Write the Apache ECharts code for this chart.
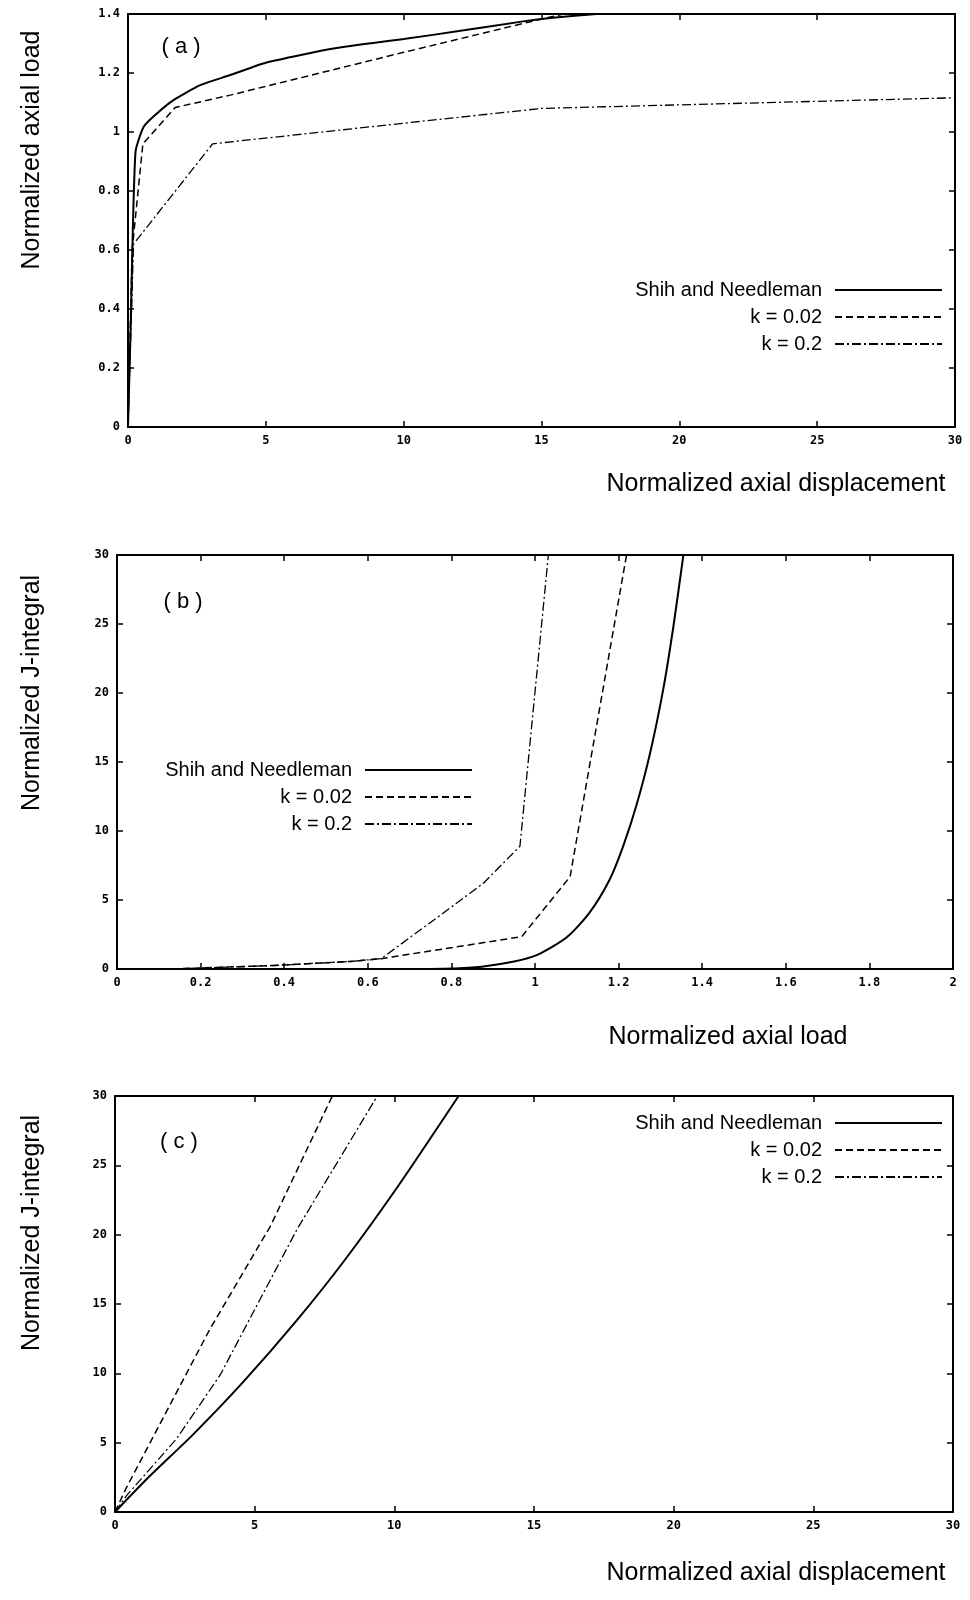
<!DOCTYPE html>
<html lang="en">

<head>
    <meta charset="UTF-8">
    <title>Normalized axial load / J-integral</title>
    <script src="https://cdn.jsdelivr.net/npm/echarts@6/dist/echarts.min.js"></script>
    <style>
        body { margin: 0; background: #fff; }
    </style>
</head>

<body>
    <div id="main" style="width:970px;height:1600px"></div>
    <script>
        // series names
        var names = ['Shih and Needleman', 'k = 0.02', 'k = 0.2'];

        // (a) normalized axial load vs normalized axial displacement
        var aShih = [[0, 0], [0.1, 0.35], [0.27, 0.93], [0.57, 1.018], [1.05, 1.063], [1.65, 1.108], [2.62, 1.159], [3.71, 1.193], [5, 1.235], [7.46, 1.283], [10, 1.315], [12, 1.342], [14.34, 1.375], [15.5, 1.388], [17, 1.4]];
        var aK002 = [[0, 0], [0.15, 0.6], [0.54, 0.96], [1.71, 1.083], [3.71, 1.125], [10, 1.27], [14.34, 1.368], [15.8, 1.4]];
        var aK02 = [[0, 0], [0.2, 0.62], [3.07, 0.96], [15, 1.08], [30, 1.116]];

        // (b) normalized J-integral vs normalized axial load
        var bShih = [[0, 0], [0.75, 0], [0.85, 0.1], [0.95, 0.55], [1.004, 1.0], [1.076, 2.3], [1.131, 4.1], [1.179, 6.5], [1.211, 8.9], [1.243, 11.9], [1.275, 15.6], [1.307, 20.3], [1.331, 24.8], [1.355, 30]];
        var bK002 = [[0, 0], [0.13, 0], [0.373, 0.25], [0.56, 0.55], [0.632, 0.75], [0.968, 2.34], [1.084, 6.69], [1.219, 30]];
        var bK02 = [[0, 0], [0.13, 0], [0.373, 0.25], [0.56, 0.55], [0.632, 0.75], [0.796, 4.4], [0.876, 6.2], [0.964, 8.9], [1.032, 30]];

        // (c) normalized J-integral vs normalized axial displacement
        var cShih = [[0, 0], [1.2, 2.5], [2.8, 5.6], [4.6, 9.4], [6.5, 13.8], [8.2, 18.1], [10.1, 23.4], [12.3, 30]];
        var cK002 = [[0, 0], [0.42, 1.8], [3.4, 13.2], [5.56, 20.6], [7.78, 30]];
        var cK02 = [[0, 0], [0.42, 1.2], [2.21, 5.3], [3.77, 9.9], [6.52, 20.4], [9.39, 30]];

        // axis ranges [min, max, interval]
        var aX = [0, 30, 5], aY = [0, 1.4, 0.2];
        var bX = [0, 2, 0.2], bY = [0, 30, 5];
        var cX = [0, 30, 5], cY = [0, 30, 5];

        var tickFont = { fontFamily: 'DejaVu Sans Mono', fontSize: 12, fontWeight: 'bold', color: '#000' };

        function axis(gi, r, pos, labels) {
            return {
                type: 'value', gridIndex: gi, position: pos,
                min: r[0], max: r[1], interval: r[2],
                splitLine: { show: false },
                axisLine: { show: true, onZero: false, lineStyle: { color: '#000', width: 2 } },
                axisTick: { show: true, inside: true, length: 6, lineStyle: { color: '#000', width: 1.5 } },
                axisLabel: Object.assign({ show: labels, margin: 8 }, tickFont)
            };
        }

        var styles = [
            { color: '#000', width: 2, type: 'solid' },
            { color: '#000', width: 1.5, type: [7, 4] },
            { color: '#000', width: 1.3, type: [9, 3, 2, 3] }
        ];

        function line(name, data, gi, k, smooth) {
            return {
                type: 'line', name: name, data: data,
                xAxisIndex: gi * 2, yAxisIndex: gi * 2,
                symbol: 'none', clip: true, z: 3,
                smooth: smooth || false,
                lineStyle: styles[k], itemStyle: { color: '#000' }
            };
        }

        function legend(right, top) {
            return {
                data: names, orient: 'vertical', align: 'right',
                right: right, top: top, padding: 0,
                itemWidth: 107, itemHeight: 14, itemGap: 7,
                selectedMode: false,
                itemStyle: { opacity: 0 },
                textStyle: { fontFamily: 'Liberation Sans', fontSize: 20, lineHeight: 20, color: '#000', padding: [0, 8, 0, 0] }
            };
        }

        function label(text, x, y, size, rot) {
            return {
                type: 'text', x: x, y: y, rotation: rot || 0,
                style: { text: text, font: size + 'px "Liberation Sans"', fill: '#000', align: 'center', verticalAlign: 'middle' }
            };
        }

        var myChart = echarts.init(document.getElementById('main'), null, { renderer: 'canvas' });
        var option = {
            backgroundColor: '#fff',
            animation: false,
            grid: [
                { left: 128, top: 14, width: 827, height: 413, outerBoundsMode: 'none' },
                { left: 117, top: 555, width: 836, height: 414, outerBoundsMode: 'none' },
                { left: 115, top: 1096, width: 838, height: 416, outerBoundsMode: 'none' }
            ],
            xAxis: [
                axis(0, aX, 'bottom', true), axis(0, aX, 'top', false),
                axis(1, bX, 'bottom', true), axis(1, bX, 'top', false),
                axis(2, cX, 'bottom', true), axis(2, cX, 'top', false)
            ],
            yAxis: [
                axis(0, aY, 'left', true), axis(0, aY, 'right', false),
                axis(1, bY, 'left', true), axis(1, bY, 'right', false),
                axis(2, cY, 'left', true), axis(2, cY, 'right', false)
            ],
            legend: [
                legend(27, 280),
                legend(497, 760),
                legend(27, 1113)
            ],
            series: [
                line(names[0], aShih, 0, 0, 0.2), line(names[1], aK002, 0, 1), line(names[2], aK02, 0, 2),
                line(names[0], bShih, 1, 0, 0.25), line(names[1], bK002, 1, 1), line(names[2], bK02, 1, 2),
                line(names[0], cShih, 2, 0, 0.25), line(names[1], cK002, 2, 1), line(names[2], cK02, 2, 2)
            ],
            graphic: [
                label('( a )', 181, 47, 22),
                label('( b )', 183, 602, 22),
                label('( c )', 179, 1142, 22),
                label('Normalized axial load', 32, 150, 25, Math.PI / 2),
                label('Normalized J-integral', 32, 693, 25, Math.PI / 2),
                label('Normalized J-integral', 32, 1233, 25, Math.PI / 2),
                label('Normalized axial displacement', 776, 484, 25),
                label('Normalized axial load', 728, 1037, 25),
                label('Normalized axial displacement', 776, 1573, 25)
            ]
        };
        myChart.setOption(option);
    </script>
</body>

</html>
